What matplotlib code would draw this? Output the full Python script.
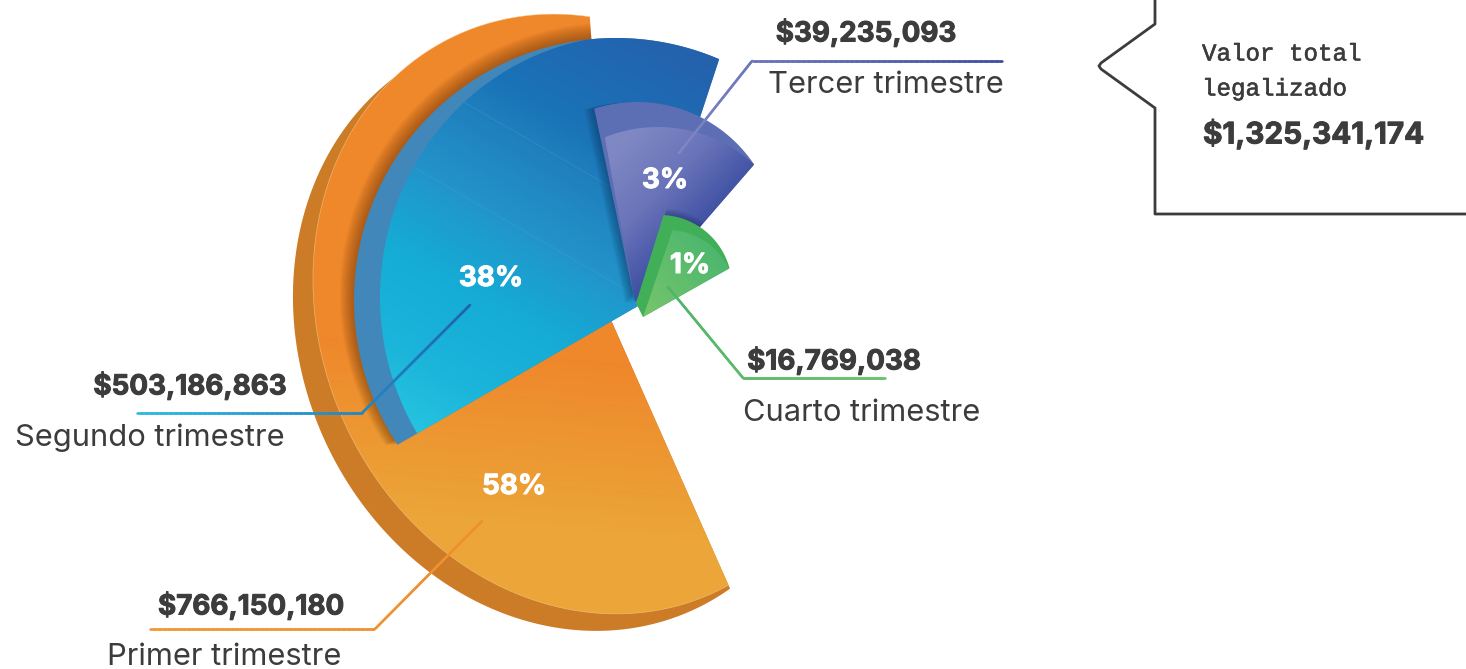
import numpy as np
import matplotlib
matplotlib.use('Agg')
import matplotlib.pyplot as plt
import matplotlib.patheffects as pe
from matplotlib.patches import Polygon
from matplotlib.collections import LineCollection
from matplotlib.colors import LinearSegmentedColormap

W, H = 1466, 669

# data
quarters = ['Primer trimestre', 'Segundo trimestre', 'Tercer trimestre', 'Cuarto trimestre']
amounts = [766150180, 503186863, 39235093, 16769038]
shares = [58, 38, 3, 1]
total_label = ['Valor total', 'legalizado']
total_amount = 1325341174

INK = '#3c3c3c'
BOLD = 'Inter'
REG = 'Inter'


def ray_hit(apex, ell, ang):
    cx, cy, a, b, tilt = ell
    tau = np.radians(tilt)
    th = np.radians(ang)
    dx, dy = np.cos(th), -np.sin(th)
    ox, oy = apex[0] - cx, apex[1] - cy
    du = dx * np.cos(tau) + dy * np.sin(tau)
    dv = -dx * np.sin(tau) + dy * np.cos(tau)
    ou = ox * np.cos(tau) + oy * np.sin(tau)
    ov = -ox * np.sin(tau) + oy * np.cos(tau)
    A = du**2 / a**2 + dv**2 / b**2
    B = 2 * (ou * du / a**2 + ov * dv / b**2)
    C = ou**2 / a**2 + ov**2 / b**2 - 1
    t = (-B + np.sqrt(B**2 - 4 * A * C)) / (2 * A)
    return apex[0] + t * dx, apex[1] + t * dy


def arc(apex, ell, a0, a1, n=240):
    return [ray_hit(apex, ell, x) for x in np.linspace(a0, a1, n)]


def sector(apex, ell, a0, a1):
    return [apex] + arc(apex, ell, a0, a1)


def fill(ax, pts, color, z, **kw):
    p = Polygon(pts, closed=True, facecolor=color, edgecolor='none', zorder=z, **kw)
    ax.add_patch(p)
    return p


def gradient(ax, pts, start, end, colors, z):
    # colors run from start to end, flat beyond them
    clip = Polygon(pts, closed=True, facecolor='none', edgecolor='none',
                   transform=ax.transData)
    ax.add_patch(clip)
    yy, xx = np.mgrid[0:H, 0:W]
    vx, vy = end[0] - start[0], end[1] - start[1]
    t = ((xx + .5 - start[0]) * vx + (yy + .5 - start[1]) * vy) / (vx**2 + vy**2)
    cmap = LinearSegmentedColormap.from_list('g', colors)
    im = ax.imshow(cmap(np.clip(t, 0, 1)), extent=(0, W, H, 0), aspect='auto',
                   zorder=z, interpolation='bilinear')
    im.set_clip_path(clip)
    return clip


def shadow(ax, apex, ell, a0, a1, shift, grow, clip, color, z, layers=14, alpha=.05):
    cx, cy, a, b, tilt = ell
    for i in range(1, layers + 1):
        e = (cx + shift[0] * i, cy + shift[1] * i, a + grow * i, b + grow * i, tilt)
        p = fill(ax, sector((apex[0] + shift[0] * i, apex[1] + shift[1] * i), e, a0, a1),
                 color, z, alpha=alpha)
        p.set_clip_path(clip)


def leader(ax, pts, c0, c1, z=20):
    pts = np.array(pts, float)
    seg_len = np.hypot(*np.diff(pts, axis=0).T)
    s = np.r_[0, np.cumsum(seg_len)]
    d = np.linspace(0, s[-1], 300)
    xy = np.c_[np.interp(d, s, pts[:, 0]), np.interp(d, s, pts[:, 1])]
    cmap = LinearSegmentedColormap.from_list('l', [c0, c1])
    lc = LineCollection(np.stack([xy[:-1], xy[1:]], axis=1), colors=cmap(np.linspace(0, 1, 299)),
                        linewidths=1.8, zorder=z, capstyle='round')
    ax.add_collection(lc)


fig = plt.figure(figsize=(W / 100, H / 100), dpi=100)
ax = fig.add_axes([0, 0, 1, 1])

# primer trimestre
o_apex = (611, 320)
o_ell = (585, 314, 307, 264, 65.2)
side_ell = (565, 331, 307, 264, 65.2)
o_end = 293.9
fill(ax, sector(o_apex, side_ell, 125, o_end), '#cc7c26', 2)
o_clip = gradient(ax, sector(o_apex, o_ell, 94, o_end), (600, 360), (585, 530),
                  ['#ef872b', '#eba538'], 3)
ax.add_patch(Polygon(arc(o_apex, o_ell, 94, o_end), closed=False, fill=False,
                     edgecolor='#f6c98a', lw=.5, alpha=.7, zorder=3.5))

# segundo trimestre
b_apex = (638, 306)
b_ell = (616, 300, 262, 262, 0)
f_ell = (634, 297, 262, 254, 90)
shadow(ax, b_apex, b_ell, 72, 210, (-.25, -.35), .75, o_clip, '#5f2f08', 4, alpha=.04)
band = fill(ax, sector(b_apex, b_ell, 71.8, 210), '#4287ba', 5)
angs = np.linspace(71.8, 210, 240)
face = [b_apex]
for x in angs:
    p1, p2 = ray_hit(b_apex, f_ell, x), ray_hit(b_apex, b_ell, x)
    face.append(min(p1, p2, key=lambda q: np.hypot(q[0] - b_apex[0], q[1] - b_apex[1])))
b_axis = (417, 433), (655.5, 20)
f_clip = gradient(ax, face, b_axis[0], b_axis[1],
                  [(0, '#25c4e0'), (.14, '#1bb4da'), (.32, '#15abd5'), (.47, '#2196cc'),
                   (.49, '#2392c9'), (.64, '#1f80be'), (.72, '#1a74b7'), (.85, '#1f6ab3'), (1, '#2660ac')], 6)
# faint streaks across the blue face
for xs, ys in [((410, 630), (165, 292)), ((460, 640), (100, 204))]:
    ln, = ax.plot(xs, ys, color='#5aa6d6', lw=.8, alpha=.22, zorder=6.5)
    ln.set_clip_path(f_clip)

# tercer trimestre
p_apex = (635, 302)
p_ell = (637, 243, 141, 141, 0)
pf_ell = (658, 269, 142, 142, 0)
shadow(ax, p_apex, p_ell, 50, 102, (-1, .1), 0, band, '#0b3560', 7, layers=10, alpha=.06)
p_clip = fill(ax, sector(p_apex, p_ell, 49.1, 101.9), '#5d6fb4', 8)
gradient(ax, sector(p_apex, pf_ell, 49.1, 100.4), (625, 140), (710, 222),
         ['#8088c4', '#6a74b9', '#3e50a3'], 9)

# cuarto trimestre
g_apex = (636, 303)
g_low = (643, 317)
g_ell = (660, 287, 72, 72, 0)
gf_ell = (668, 297, 67, 67, 0)
g_out = [g_apex] + arc(g_apex, g_ell, 72.6, 20.4) + [g_low]
shadow(ax, g_apex, g_ell, 22, 72, (.3, -.8), 0, p_clip, '#1d2a66', 9.5, layers=8, alpha=.06)
fill(ax, g_out, '#41ae58', 10)
gradient(ax, sector(g_low, gf_ell, 29.4, 71.2), (650, 305), (725, 240),
         ['#72c36c', '#47b56e'], 11)

# leaders
leader(ax, [(470, 305), (362, 413), (137, 413)], '#1f62ae', '#2cbbe0')
leader(ax, [(482, 521), (375, 629), (150, 629)], '#ef8e30', '#ef9a34')
leader(ax, [(679, 153), (752, 61), (1002, 61)], '#8088c4', '#3e50a3')
leader(ax, [(668, 287), (743, 378), (885, 378)], '#4fb56a', '#6cc26c')

# callout
ax.plot([1155, 1155, 1101, 1099, 1101, 1155, 1155, 1466], [0, 24, 63, 66, 69, 108, 214, 214],
        color=INK, lw=2, solid_joinstyle='round', zorder=20)


def bold(x, y, s, size, color=INK, ha='center', stroke=.7):
    ax.text(x, y, s, fontsize=size, fontweight='bold', family=BOLD, color=color, ha=ha, va='center',
            zorder=30, path_effects=[pe.withStroke(linewidth=stroke, foreground=color)])


def reg(x, y, s, ha='center'):
    ax.text(x, y, s, fontsize=22.2, family=REG, color=INK, ha=ha, va='center', zorder=30)


amount_pos = [(251, 606), (190, 386), (866, 33), (834, 361)]
name_pos = [(224, 657), (150, 438), (886, 85), (862, 413)]
share_pos = [(514, 487), (491, 279), (665, 181), (690, 266)]
for i in range(4):
    bold(*amount_pos[i], f'${amounts[i]:,}', 20)
    reg(*name_pos[i], quarters[i])
    bold(*share_pos[i], f'{shares[i]}%', 20, color='white', stroke=.7)

for k, y in enumerate([54, 89]):
    ax.text(1202, y, total_label[k], fontsize=17.4, family='Liberation Mono', color=INK, va='center',
            zorder=30, path_effects=[pe.withStroke(linewidth=.4, foreground=INK)])
bold(1203, 134, f'${total_amount:,}', 21.4, ha='left')

ax.set_xlim(0, W)
ax.set_ylim(H, 0)
ax.axis('off')
fig.savefig('out.png', dpi=100)
